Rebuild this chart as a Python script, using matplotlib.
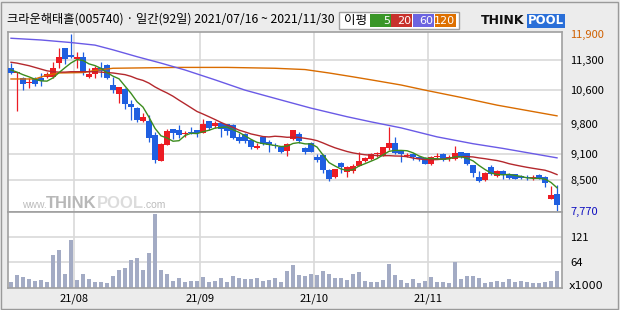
import matplotlib
matplotlib.use('Agg')
import matplotlib.pyplot as plt
import numpy as np
from matplotlib.patches import Rectangle

plt.rcParams['font.family'] = ['Noto Sans CJK KR', 'DejaVu Sans']

# 크라운해태홀 daily candles, 2021/07/16 ~ 2021/11/30 (92 trading days)
opens = [11100, 10980, 10880, 10750, 10840, 10880, 10900, 10900, 11220, 11570,
         11410, 11310, 11370, 10900, 10960, 11100, 11180, 10710, 10500, 10620,
         10270, 10170, 9870, 9880, 9540, 8940, 9310, 9680, 9660, 9560,
         9620, 9660, 9600, 9870, 9750, 9820, 9800, 9780, 9490, 9570,
         9430, 9250, 9490, 9390, 9300, 9270, 9180, 9450, 9570, 9230,
         9350, 9040, 9080, 8730, 8560, 8880, 8690, 8710, 8830, 8940,
         8980, 9090, 9080, 9230, 9350, 9170, 9050, 9090, 9040, 9010,
         8870, 9030, 9090, 9010, 8980, 9140, 9120, 8840, 8570, 8490,
         8800, 8590, 8700, 8630, 8630, 8590, 8570, 8540, 8610, 8570,
         8050, 8160]
highs = [11220, 11020, 10900, 10870, 10890, 10980, 11020, 11250, 11570, 11580,
         11900, 11490, 11490, 11100, 11150, 11250, 11190, 10900, 10670, 10630,
         10360, 10190, 10050, 10010, 9620, 9350, 9680, 9690, 9780, 9640,
         9720, 9670, 9910, 9880, 9880, 9830, 9810, 9790, 9580, 9580,
         9450, 9350, 9520, 9430, 9350, 9280, 9350, 9660, 9610, 9270,
         9390, 9100, 9090, 8740, 8750, 8920, 8830, 8870, 9150, 9040,
         9130, 9140, 9270, 9740, 9500, 9180, 9120, 9120, 9060, 9020,
         9060, 9120, 9120, 9080, 9290, 9150, 9130, 8850, 8710, 8670,
         8840, 8730, 8730, 8650, 8640, 8610, 8610, 8600, 8630, 8580,
         8360, 8380]
lows = [10960, 10110, 10590, 10650, 10690, 10690, 10870, 10870, 11100, 11190,
        11330, 11100, 10940, 10870, 10870, 10900, 10860, 10520, 10280, 10150,
        9890, 9850, 9850, 9390, 8880, 8930, 9300, 9440, 9470, 9500,
        9560, 9490, 9590, 9660, 9710, 9500, 9540, 9450, 9350, 9350,
        9220, 9220, 9310, 9150, 9230, 9120, 9060, 9430, 9350, 9100,
        9140, 8920, 8660, 8480, 8530, 8660, 8570, 8660, 8820, 8920,
        8970, 9040, 9060, 9190, 9100, 8920, 9020, 8960, 8940, 8860,
        8840, 8980, 8940, 8940, 8960, 9000, 8850, 8570, 8450, 8480,
        8610, 8560, 8520, 8520, 8510, 8520, 8490, 8490, 8520, 8340,
        8040, 7770]
closes = [11000, 11000, 10730, 10760, 10730, 10810, 10970, 11110, 11370, 11310,
          11360, 11370, 11000, 10970, 11110, 11040, 10870, 10590, 10660, 10260,
          10200, 9890, 9960, 9480, 8960, 9330, 9640, 9580, 9540, 9570,
          9590, 9600, 9800, 9710, 9820, 9680, 9640, 9480, 9410, 9410,
          9270, 9290, 9330, 9310, 9290, 9150, 9330, 9650, 9410, 9140,
          9150, 8960, 8730, 8520, 8740, 8800, 8800, 8820, 8940, 9010,
          9090, 9100, 9260, 9350, 9120, 9090, 9060, 9020, 8980, 8870,
          9040, 9040, 8960, 9020, 9120, 9040, 8860, 8660, 8480, 8650,
          8630, 8700, 8610, 8530, 8520, 8530, 8530, 8550, 8530, 8430,
          8140, 7910]
volumes = [18, 35, 31, 26, 22, 24, 19, 81, 92, 37,
           115, 24, 37, 26, 19, 19, 17, 33, 46, 51,
           69, 74, 46, 85, 174, 46, 37, 21, 28, 19,
           21, 21, 31, 19, 21, 28, 19, 33, 28, 26,
           26, 28, 21, 24, 28, 19, 44, 58, 35, 33,
           37, 35, 44, 37, 28, 28, 24, 37, 42, 21,
           19, 19, 24, 60, 35, 24, 17, 26, 17, 21,
           31, 19, 19, 17, 65, 26, 33, 33, 28, 17,
           19, 21, 19, 26, 19, 21, 19, 17, 17, 19,
           21, 44]  # x1000 shares

# moving averages: first days need history before the window
ma5_head = [11060, 11010, 10950, 10900]
ma20_head = [11240, 11220, 11190, 11160, 11120, 11080, 11040, 11020, 11010, 11010,
             11020, 11020, 11020, 11020, 11020, 11010, 11000, 10990, 10970]
ma60_idx = [0, 5, 10, 14, 17, 21, 25, 29, 34, 39, 45, 50, 56, 60, 65, 71, 77, 82, 91]
ma60_val = [11800, 11760, 11700, 11640, 11530, 11370, 11220, 11060, 10830, 10590,
            10360, 10170, 9970, 9850, 9710, 9500, 9340, 9230, 9010]
ma120_idx = [0, 4, 6, 8, 12, 14, 17, 28, 36, 44, 49, 53, 57, 60, 65, 69, 75, 81, 91]
ma120_val = [10850, 10850, 10940, 10990, 11000, 11050, 11100, 11120, 11120, 11100,
             11070, 10990, 10900, 10830, 10710, 10590, 10420, 10240, 9990]

month_labels = ['21/08', '21/09', '21/10', '21/11']
month_start = [11, 32, 51, 70]
price_ticks = [8500, 9100, 9800, 10600, 11300]
price_high = 11900
price_low = 7770
vol_ticks = [64, 121]

title = '크라운해태홀(005740) · 일간(92일) 2021/07/16 ~ 2021/11/30'

RED = '#ec1c24'
BLUE = '#1f5fe0'
C5 = '#3c8c1e'
C20 = '#b4282d'
C60 = '#6a5ae6'
C120 = '#d96c00'
VOLC = '#a3abc4'
GRID = '#d9d9d9'
EDGE = '#a0a0a0'
LAT = 'Liberation Sans'

x = np.arange(len(closes))
o = np.array(opens)
c = np.array(closes)
h = np.array(highs)
l = np.array(lows)

ma5 = np.concatenate([ma5_head, np.convolve(c, np.ones(5) / 5, 'valid')])
ma20 = np.concatenate([ma20_head, np.convolve(c, np.ones(20) / 20, 'valid')])

fig = plt.figure(figsize=(6.2, 3.1), dpi=100, facecolor='#ececec')
ax = fig.add_axes([8 / 620, 98 / 310, 554 / 620, 180 / 310])
axv = fig.add_axes([8 / 620, 22 / 310, 554 / 620, 76 / 310], sharex=ax)

# price panel
for v in price_ticks:
    ax.axhline(v, color=GRID, lw=1.2, zorder=0)
for s in month_start:
    ax.axvline(s - 0.5, color=GRID, lw=1.2, zorder=0)
    axv.axvline(s - 0.5, color=GRID, lw=1.2, zorder=0)

colors = np.where(c >= o, RED, BLUE)
ax.vlines(x, l, h, colors=colors, lw=0.9, zorder=2)
body_lo = np.minimum(o, c)
body_h = np.maximum(np.abs(c - o), 25)
ax.bar(x, body_h, bottom=body_lo, width=0.85, color=colors, lw=0, zorder=3)

ax.plot(ma120_idx, ma120_val, color=C120, lw=1, zorder=4)
ax.plot(ma60_idx, ma60_val, color=C60, lw=1, zorder=4)
ax.plot(x, ma20, color=C20, lw=1, zorder=4)
ax.plot(x, ma5, color=C5, lw=1, zorder=4)

# watermark inside the price panel (pixel positions -> axes fraction)
def px(xp, yp):
    return (xp - 8) / 554, (212 - yp) / 180

ax.text(*px(22, 205), 'www.', fontsize=7.5, color='#bcbcbc', va='center', ha='left',
        family=LAT, transform=ax.transAxes, zorder=1)
ax.text(*px(46, 203), 'THINK', fontsize=12, fontweight='bold', color='#b8b8b8',
        va='center', ha='left', family=LAT, transform=ax.transAxes, zorder=1)
ax.text(*px(97, 203), 'POOL', fontsize=12, fontweight='bold', color='#dcdcdc',
        va='center', ha='left', family=LAT, transform=ax.transAxes, zorder=1)
ax.text(*px(143, 205), '.com', fontsize=7.5, color='#bcbcbc', va='center', ha='left',
        family=LAT, transform=ax.transAxes, zorder=1)

ax.set_xlim(-0.5, 91.83)
ax.set_ylim(7747, 11946)
ax.yaxis.tick_right()
yt = [price_low] + price_ticks + [price_high]
ax.set_yticks(yt)
ax.set_yticklabels([f'{v:,}' for v in yt])
ax.tick_params(axis='y', length=0, pad=6, labelsize=8)
ax.tick_params(axis='x', length=0, labelbottom=False)
labs = ax.get_yticklabels()
labs[0].set_color('#1010c0')
labs[-1].set_color('#d06000')

# volume panel
for v in vol_ticks:
    axv.axhline(v, color=GRID, lw=1.2, zorder=0)
axv.bar(x, volumes, width=0.8, color=VOLC, lw=0, zorder=2)
axv.set_ylim(5.4, 178)
axv.yaxis.tick_right()
axv.set_yticks(vol_ticks)
axv.set_yticklabels([str(v) for v in vol_ticks])
axv.tick_params(axis='y', length=0, pad=6, labelsize=8)
axv.set_xticks([s - 0.5 for s in month_start])
axv.set_xticklabels(month_labels)
axv.tick_params(axis='x', length=0, pad=4, labelsize=8)

for a in (ax, axv):
    a.set_facecolor('white')
    for sp in a.spines.values():
        sp.set_color(EDGE)
        sp.set_linewidth(1.2)

# overlay in pixel coordinates for header, legend and logo
ov = fig.add_axes([0, 0, 1, 1], zorder=-1)
ov.set_xlim(0, 620)
ov.set_ylim(310, 0)
ov.axis('off')
ov.patch.set_visible(False)

ov.text(7, 19, title, fontsize=8.8, va='center', ha='left', color='black')
ov.text(569, 286, 'x1000', fontsize=8, va='center', ha='left', family='DejaVu Sans')

ov.add_patch(Rectangle((339, 12), 120, 17, facecolor='white', edgecolor=EDGE, lw=1))
ov.text(344, 20.5, '이평', fontsize=9, va='center', ha='left')
for x0, col, txt in [(370, '#3a9628', '5'), (391, '#c8322d', '20'),
                     (413, '#6c64e0', '60'), (435, '#de7000', '120')]:
    ov.add_patch(Rectangle((x0, 14), 21, 13, facecolor=col, edgecolor='none'))
    ov.text(x0 + 20, 20.7, txt, fontsize=8, color='white', va='center', ha='right',
            family='DejaVu Sans')

ov.text(481, 21, 'THINK', fontsize=9, fontweight='bold', color='#111111',
        va='center', ha='left', family='DejaVu Sans')
ov.add_patch(Rectangle((527, 14), 38, 14, facecolor='#2a6fd8', edgecolor='none'))
ov.text(546, 21, 'POOL', fontsize=8.5, fontweight='bold', color='white',
        va='center', ha='center', family='DejaVu Sans')

fig.add_artist(Rectangle((1 / 620, 1 / 310), 617 / 620, 307 / 310, transform=fig.transFigure,
                         facecolor='none', edgecolor='#9a9a9a', lw=1))

fig.savefig('out.png', dpi=100, facecolor=fig.get_facecolor())
